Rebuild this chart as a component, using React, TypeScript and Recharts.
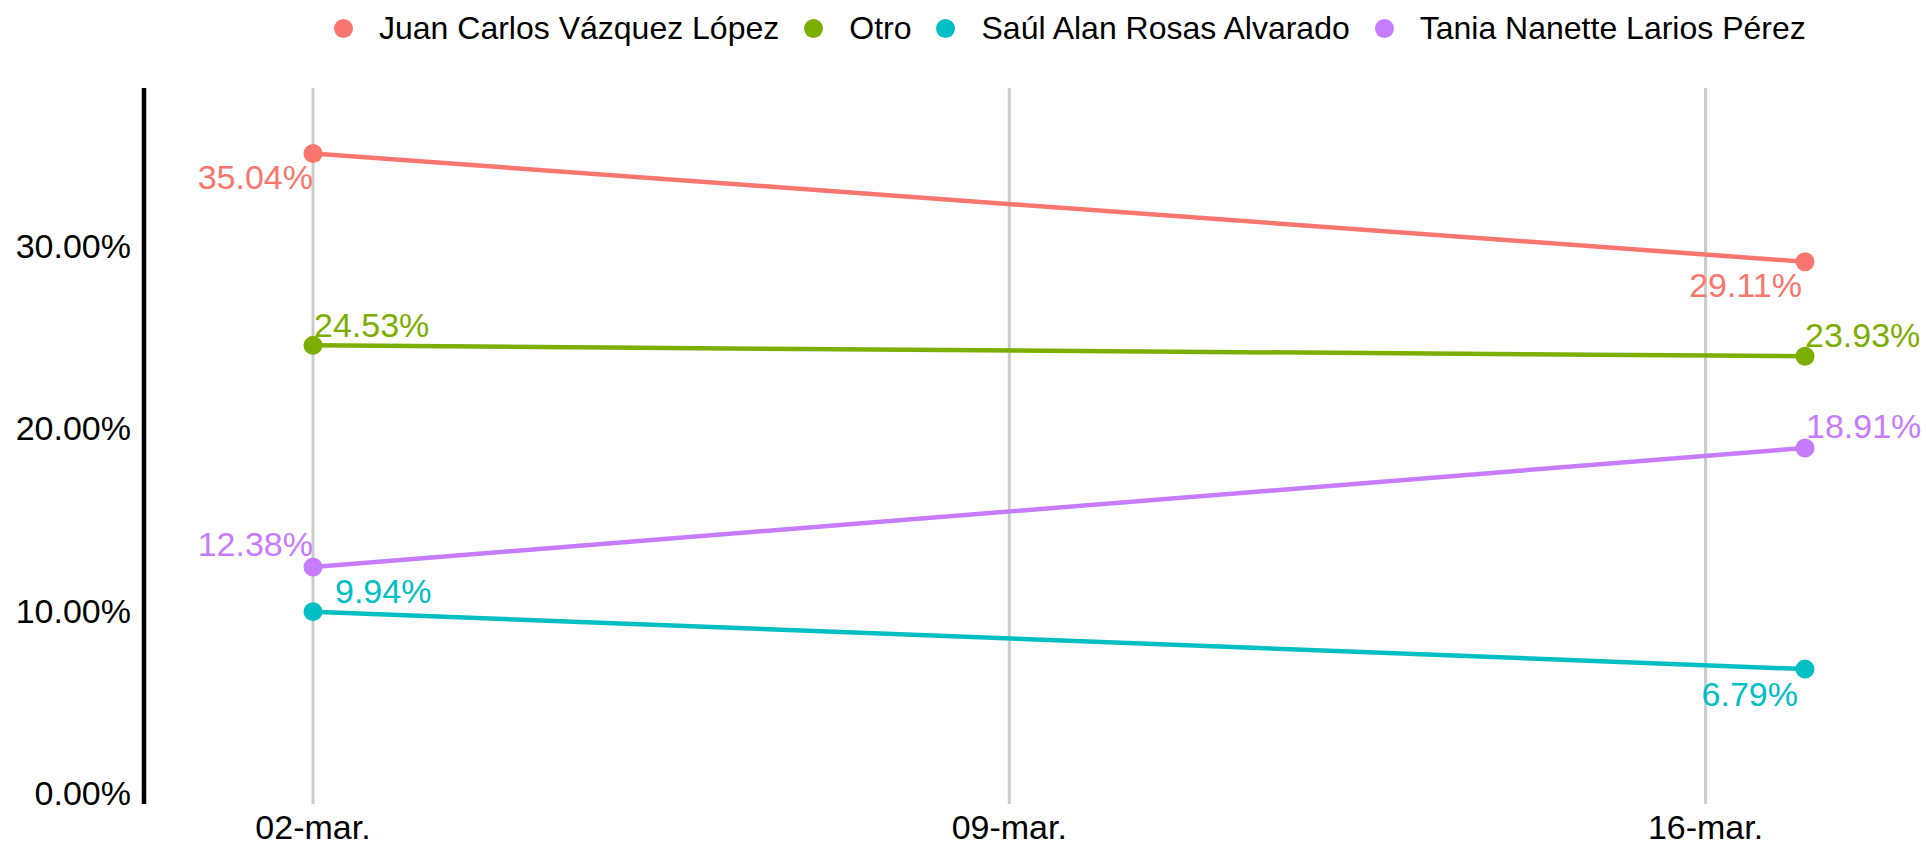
import React from 'react';
import { LineChart, Line, XAxis, YAxis, ReferenceLine, Legend, LabelList } from 'recharts';

// day of march for each observation
const days = [2, 17];

const juanCarlos = [35.04, 29.11];
const otro = [24.53, 23.93];
const saulAlan = [9.94, 6.79];
const taniaNanette = [12.38, 18.91];

const xTicks = [2, 9, 16];
const xTickLabels = ['02-mar.', '09-mar.', '16-mar.'];
const yTicks = [0, 10, 20, 30];

const seriesNames = ['Juan Carlos Vázquez López', 'Otro', 'Saúl Alan Rosas Alvarado', 'Tania Nanette Larios Pérez'];
const seriesKeys = ['juan', 'otro', 'saul', 'tania'];
const seriesValues = [juanCarlos, otro, saulAlan, taniaNanette];

const colors: Record<string, string> = {
  juan: '#F8766D',
  otro: '#7CAE00',
  saul: '#00BFC4',
  tania: '#C77CFF',
};

// where each value label sits relative to its point (first / last date)
const labelPlacement: Record<string, { dx: number; dy: number; anchor: 'start' | 'end' }[]> = {
  juan: [{ dx: 0, dy: 23, anchor: 'end' }, { dx: -3, dy: 23.5, anchor: 'end' }],
  otro: [{ dx: 1, dy: -21, anchor: 'start' }, { dx: 0, dy: -22, anchor: 'start' }],
  saul: [{ dx: 22, dy: -21, anchor: 'start' }, { dx: -7, dy: 24.5, anchor: 'end' }],
  tania: [{ dx: 0, dy: -23.5, anchor: 'end' }, { dx: 1, dy: -22, anchor: 'start' }],
};

const FONT = '"Liberation Sans", Arial, Helvetica, sans-serif';

const data = days.map((d, i) => {
  const row: Record<string, number> = { day: d };
  seriesKeys.forEach((k, s) => {
    row[k] = seriesValues[s][i];
  });
  return row;
});

const pct = (v: number) => `${v.toFixed(2)}%`;

function makeLabel(key: string) {
  return (props: any) => {
    const { x, y, value, index } = props;
    const p = labelPlacement[key][index];
    return (
      <text
        x={Number(x) + p.dx}
        y={Number(y) + p.dy}
        dy="0.36em"
        textAnchor={p.anchor}
        fill={colors[key]}
        fontSize={34}
        fontFamily={FONT}
      >
        {pct(Number(value))}
      </text>
    );
  };
}

function LegendContent() {
  return (
    <div style={{ height: 56, position: 'relative', fontFamily: FONT }}>
      <div style={{ position: 'absolute', left: 334, top: 0, height: 56, display: 'flex', alignItems: 'center' }}>
        {seriesKeys.map((k, i) => (
          <div key={k} style={{ display: 'flex', alignItems: 'center', marginRight: i < 3 ? 25 : 0 }}>
            <span
              style={{
                width: 19,
                height: 19,
                borderRadius: '50%',
                background: colors[k],
                display: 'inline-block',
                marginRight: 26,
              }}
            />
            <span style={{ fontSize: 32, color: '#000', whiteSpace: 'nowrap' }}>{seriesNames[i]}</span>
          </div>
        ))}
      </div>
    </div>
  );
}

export default function App() {
  return (
    <div style={{ width: 1926, height: 845, background: '#fff' }}>
      <style>{'body{margin:0;}'}</style>
      <LineChart width={1926} height={845} data={data} margin={{ top: 32, right: 6, bottom: 0, left: 0 }}>
        <XAxis
          dataKey="day"
          type="number"
          domain={[0.301, 18.156]}
          ticks={xTicks}
          tickFormatter={(v: number) => xTickLabels[xTicks.indexOf(v)]}
          axisLine={false}
          tickLine={false}
          tickMargin={5}
          height={41}
          allowDataOverflow
          tick={{ fill: '#000', fontSize: 34, fontFamily: FONT }}
        />
        <YAxis
          type="number"
          domain={[-0.6, 38.63]}
          ticks={yTicks}
          tickFormatter={pct}
          allowDataOverflow
          width={144}
          tickLine={false}
          tickMargin={7}
          axisLine={{ stroke: '#000', strokeWidth: 4.5 }}
          tick={{ fill: '#000', fontSize: 34, fontFamily: FONT }}
        />
        {/* vertical grid only at the date ticks */}
        {xTicks.map((t) => (
          <ReferenceLine key={t} x={t} stroke="#cccccc" strokeWidth={3} />
        ))}
        <Legend verticalAlign="top" align="left" content={() => <LegendContent />} wrapperStyle={{ top: 0, left: 0, width: 1926 }} />
        {seriesKeys.map((k, i) => (
          <Line
            key={k}
            name={seriesNames[i]}
            dataKey={k}
            type="linear"
            stroke={colors[k]}
            strokeWidth={4.5}
            dot={{ r: 9.5, fill: colors[k], stroke: 'none' }}
            activeDot={false}
            isAnimationActive={false}
          >
            <LabelList dataKey={k} content={makeLabel(k)} />
          </Line>
        ))}
      </LineChart>
    </div>
  );
}
